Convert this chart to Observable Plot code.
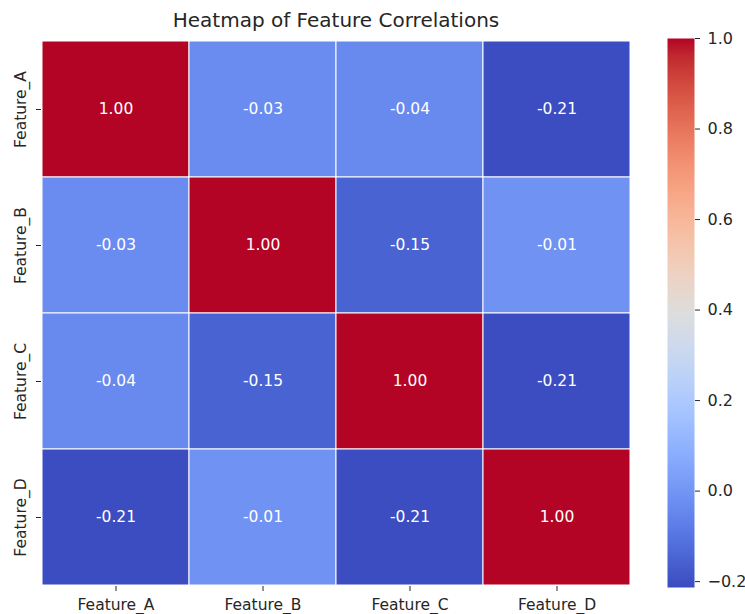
<!DOCTYPE html>
<html>
<head>
<meta charset="utf-8">
<script src="https://cdn.jsdelivr.net/npm/d3@7"></script>
<script src="https://cdn.jsdelivr.net/npm/@observablehq/plot@0.6"></script>
<style>
  html, body { margin: 0; padding: 0; background: #ffffff; }
  #wrap { position: relative; width: 745px; height: 614px; font-family: "DejaVu Sans", sans-serif; overflow: hidden; }
  #title { position: absolute; left: 41px; width: 590px; top: 8px; text-align: center; font-size: 20px; color: #262626; }
  #heat { position: absolute; left: 0; top: 0; }
  #cbar { position: absolute; left: 640px; top: 0; }
</style>
</head>
<body>
<div id="wrap">
  <div id="heat"></div>
  <div id="cbar"></div>
  <div id="title">Heatmap of Feature Correlations</div>
</div>
<script>
// ---- data ----
const features = ["Feature_A", "Feature_B", "Feature_C", "Feature_D"];
const rowA = [1.00, -0.03, -0.04, -0.21];
const rowB = [-0.03, 1.00, -0.15, -0.01];
const rowC = [-0.04, -0.15, 1.00, -0.21];
const rowD = [-0.21, -0.01, -0.21, 1.00];
const colorDomain = [-0.213, 1.0];
const colorbarTicks = [-0.2, 0.0, 0.2, 0.4, 0.6, 0.8, 1.0];
// matplotlib "coolwarm" control colours
const coolwarm = [
  "#3b4cc0","#445acc","#4d68d7","#5775e1","#6282ea","#6c8ef1","#779af7","#82a5fb",
  "#8db0fe","#98b9ff","#a3c2ff","#aec9fd","#b8d0f9","#c2d5f4","#ccd9ee","#d5dbe6",
  "#dddddd","#e5d8d1","#ecd3c5","#f1ccb8","#f5c4ac","#f7bb9f","#f7b193","#f7a686",
  "#f49a7b","#f18d6f","#ec7f63","#e57059","#de604d","#d55042","#cb3e38","#c0282f",
  "#b40426"
];

const rows = [rowA, rowB, rowC, rowD];
const table = [];
rows.forEach((r, i) => r.forEach((v, j) => table.push({row: features[i], col: features[j], value: v})));

const interp = d3.piecewise(d3.interpolateRgb, coolwarm);
const colorScale = {type: "linear", domain: colorDomain, interpolate: interp};
const textColor = "#262626";

const heat = Plot.plot({
  width: 640,
  height: 614,
  marginLeft: 41,
  marginRight: 9,
  marginTop: 39,
  marginBottom: 28,
  x: {domain: features, padding: 0, label: null},
  y: {domain: features, padding: 0, label: null},
  color: colorScale,
  style: {fontFamily: "DejaVu Sans", fontSize: "16px", color: textColor, background: "transparent", overflow: "visible"},
  marks: [
    Plot.cell(table, {x: "col", y: "row", fill: "value", stroke: "white", strokeWidth: 1}),
    Plot.text(table, {x: "col", y: "row", text: d => d.value.toFixed(2), fill: "white", fontSize: 15.5}),
    Plot.axisX({tickSize: 5, tickPadding: 7, label: null, fontSize: 15.5}),
    Plot.axisY({tickSize: 5, tickRotate: -90, tickPadding: 11, label: null, fontSize: 15.5})
  ]
});
document.getElementById("heat").appendChild(heat);

const cbar = Plot.plot({
  width: 105,
  height: 614,
  marginLeft: 27,
  marginRight: 51,
  marginTop: 38,
  marginBottom: 27,
  x: {domain: [0, 1], axis: null},
  y: {domain: colorDomain, label: null},
  color: colorScale,
  style: {fontFamily: "DejaVu Sans", fontSize: "16px", color: textColor, background: "transparent", overflow: "visible"},
  marks: [
    Plot.raster({x1: 0, x2: 1, y1: colorDomain[0], y2: colorDomain[1], width: 1, height: 548, fill: (x, y) => y, imageRendering: "auto"}),
    Plot.axisY(colorbarTicks, {anchor: "right", tickSize: 5, tickPadding: 8, tickFormat: d3.format(".1f"), label: null, fontSize: 16})
  ]
});
document.getElementById("cbar").appendChild(cbar);
</script>
</body>
</html>
